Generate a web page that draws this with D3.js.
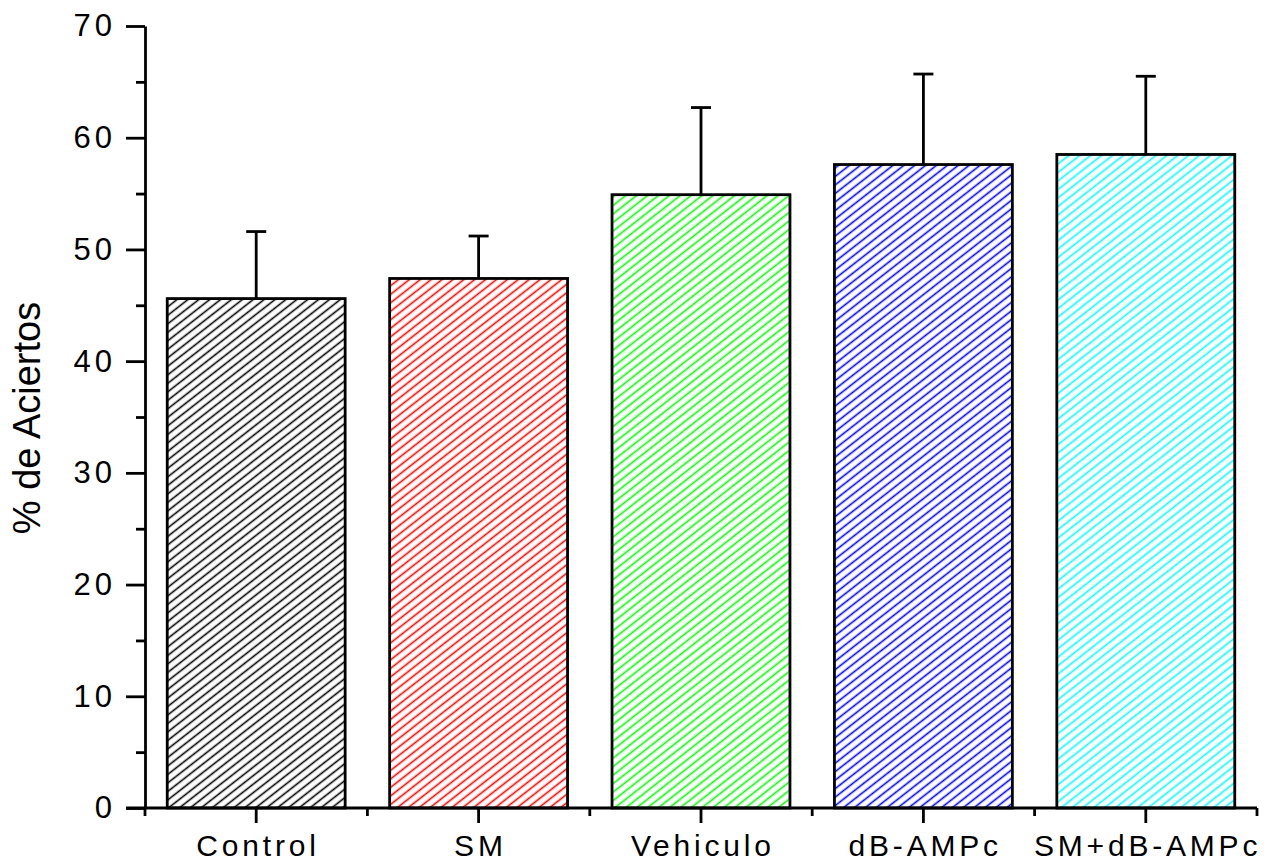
<!DOCTYPE html>
<html>
<head>
<meta charset="utf-8">
<script src="https://cdn.jsdelivr.net/npm/d3@7"></script>
<style>
  html, body { margin: 0; padding: 0; background: #fff; }
  svg { display: block; }
  text { font-family: "Liberation Sans", Arial, sans-serif; fill: #000; }
</style>
</head>
<body>
<svg id="chart" width="1266" height="863"></svg>
<script>
// Group names, mean % correct and error (upper whisker) per group
const categories = ["Control", "SM", "Vehiculo", "dB-AMPc", "SM+dB-AMPc"];
const means      = [45.6, 47.4, 54.9, 57.6, 58.5];
const errors     = [6.0, 3.8, 7.8, 8.1, 7.0];
const hatchColors = ["#000000", "#ff0000", "#00ff00", "#0000ff", "#00ffff"];
const yTicks      = [0, 10, 20, 30, 40, 50, 60, 70];
const yMinorTicks = [5, 15, 25, 35, 45, 55, 65];
const yLabel = "% de Aciertos";

const svg = d3.select("#chart");
const margin = { left: 145, right: 9, top: 26, bottom: 55 };
const W = +svg.attr("width"), H = +svg.attr("height");
const lw = 2.8;

const x = d3.scaleBand()
  .domain(categories)
  .range([margin.left, W - margin.right])
  .paddingInner(0.2)
  .paddingOuter(0.1);

const y = d3.scaleLinear()
  .domain([0, 70])
  .range([H - margin.bottom, margin.top]);

// Diagonal hatch fills, one per group colour
const defs = svg.append("defs");
categories.forEach((c, i) => {
  const p = defs.append("pattern")
    .attr("id", "hatch" + i)
    .attr("patternUnits", "userSpaceOnUse")
    .attr("width", 20)
    .attr("height", 6.7)
    .attr("patternTransform", "rotate(-38)");
  p.append("line")
    .attr("x1", -1).attr("x2", 21)
    .attr("y1", 3.35).attr("y2", 3.35)
    .attr("stroke", hatchColors[i])
    .attr("stroke-width", 1.6);
});

// Bars
svg.append("g").selectAll("rect")
  .data(categories)
  .join("rect")
  .attr("x", d => x(d))
  .attr("width", x.bandwidth())
  .attr("y", (d, i) => y(means[i]))
  .attr("height", (d, i) => y(0) - y(means[i]))
  .attr("fill", (d, i) => `url(#hatch${i})`)
  .attr("stroke", "#000")
  .attr("stroke-width", lw);

// Upper error bars with caps
const capW = 20;
const eb = svg.append("g").attr("stroke", "#000").attr("stroke-width", lw);
categories.forEach((c, i) => {
  const cx = x(c) + x.bandwidth() / 2;
  eb.append("line")
    .attr("x1", cx).attr("x2", cx)
    .attr("y1", y(means[i])).attr("y2", y(means[i] + errors[i]));
  eb.append("line")
    .attr("x1", cx - capW / 2).attr("x2", cx + capW / 2)
    .attr("y1", y(means[i] + errors[i])).attr("y2", y(means[i] + errors[i]));
});

// Axis styling helper
function styleAxis(g) {
  g.selectAll(".domain").attr("stroke", "#000").attr("stroke-width", lw);
  g.selectAll(".tick line").attr("stroke", "#000").attr("stroke-width", lw);
}

// X axis: major ticks at group centres, minor ticks at group boundaries
const xAxisG = svg.append("g")
  .attr("transform", `translate(0,${y(0)})`)
  .call(d3.axisBottom(x).tickSize(15).tickSizeOuter(0).tickPadding(12));
styleAxis(xAxisG);
xAxisG.select(".domain").attr("d", `M${margin.left - 19},0H${W - margin.right}`);
xAxisG.selectAll(".tick text")
  .attr("font-size", 30)
  .attr("font-family", "Liberation Sans, Arial, sans-serif")
  .style("letter-spacing", "3.8px")
  .attr("dx", "0.06em");

const boundaries = d3.range(categories.length + 1).map(i => x.range()[0] + i * x.step());
svg.append("g").selectAll("line")
  .data(boundaries)
  .join("line")
  .attr("x1", d => d).attr("x2", d => d)
  .attr("y1", y(0)).attr("y2", y(0) + 8)
  .attr("stroke", "#000").attr("stroke-width", lw);

// Y axis with major and minor ticks
const yAxisG = svg.append("g")
  .attr("transform", `translate(${margin.left},0)`)
  .call(d3.axisLeft(y).tickValues(yTicks).tickSize(19).tickSizeOuter(0).tickPadding(10));
styleAxis(yAxisG);
yAxisG.selectAll(".tick text")
  .attr("font-size", 31)
  .attr("font-family", "Liberation Sans, Arial, sans-serif")
  .style("letter-spacing", "4px");

const yMinorG = svg.append("g")
  .attr("transform", `translate(${margin.left},0)`)
  .call(d3.axisLeft(y).tickValues(yMinorTicks).tickSize(9).tickFormat(""));
styleAxis(yMinorG);
yMinorG.select(".domain").remove();

// Y axis title
svg.append("text")
  .attr("transform", `translate(40,${(y(0) + y(70)) / 2 + 1}) rotate(-90)`)
  .attr("text-anchor", "middle")
  .attr("font-size", 38)
  .text(yLabel);
</script>
</body>
</html>
